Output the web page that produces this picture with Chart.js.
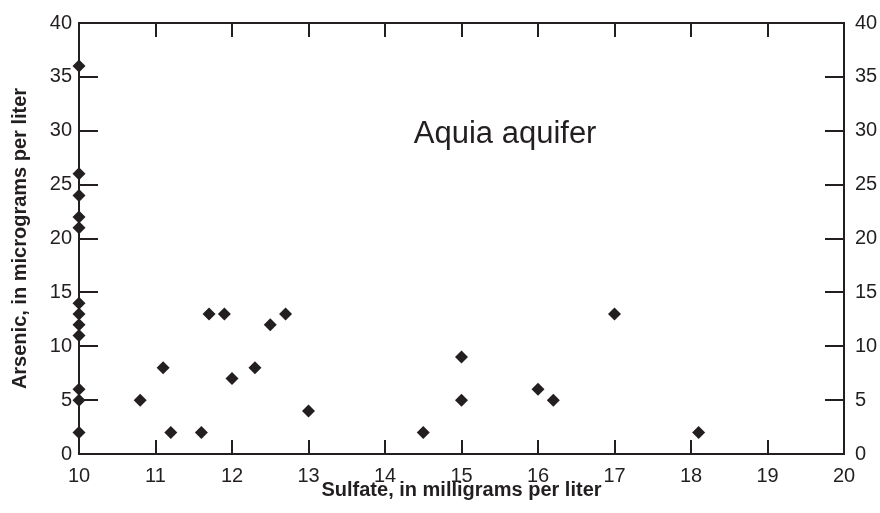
<!DOCTYPE html>
<html>
<head>
<meta charset="utf-8">
<script src="https://cdn.jsdelivr.net/npm/chart.js@4.4.1/dist/chart.umd.min.js"></script>
<style>
  html, body { margin: 0; padding: 0; background: #fff; }
  #wrap { width: 880px; height: 513px; }
</style>
</head>
<body>
<div id="wrap"><canvas id="graph" width="880" height="513"></canvas></div>
<script>
// data: sulfate (mg/L) vs arsenic (ug/L)
const sulfate = [10, 10, 10, 10, 10, 10, 10, 10, 10, 10, 10, 10,
  10.8, 11.1, 11.2, 11.6, 11.7, 11.9, 12, 12.3, 12.5, 12.7, 13,
  14.5, 15, 15, 16, 16.2, 17, 18.1];
const arsenic = [36, 26, 24, 22, 21, 14, 13, 12, 11, 6, 5, 2,
  5, 8, 2, 2, 13, 13, 7, 8, 12, 13, 4,
  2, 9, 5, 6, 5, 13, 2];

const xTicks = [10, 11, 12, 13, 14, 15, 16, 17, 18, 19, 20];
const yTicks = [0, 5, 10, 15, 20, 25, 30, 35, 40];
const panelLabel = "Aquia aquifer";

const INK = "#231f20";
const FONT = "'Liberation Sans', Arial, sans-serif";

// -------------------------
// inward tick marks + panel label
// -------------------------
const innerTicks = {
  id: "innerTicks",
  afterDatasetsDraw(chart) {
    const ctx = chart.ctx;
    const s = chart.scales;
    const a = chart.chartArea;
    ctx.save();
    ctx.strokeStyle = INK;
    ctx.lineWidth = 2;
    ctx.beginPath();
    xTicks.slice(1, -1).forEach(v => {
      const px = Math.round(s.x.getPixelForValue(v));
      ctx.moveTo(px, a.bottom); ctx.lineTo(px, a.bottom - 14);
      ctx.moveTo(px, a.top); ctx.lineTo(px, a.top + 14);
    });
    yTicks.slice(1, -1).forEach(v => {
      const py = Math.round(s.y.getPixelForValue(v));
      ctx.moveTo(a.left, py); ctx.lineTo(a.left + 19, py);
      ctx.moveTo(a.right, py); ctx.lineTo(a.right - 19, py);
    });
    ctx.stroke();

    ctx.fillStyle = INK;
    ctx.font = "31px " + FONT;
    ctx.textAlign = "center";
    ctx.textBaseline = "alphabetic";
    ctx.fillText(panelLabel, s.x.getPixelForValue(15.57), s.y.getPixelForValue(28.9));
    ctx.restore();
  }
};

function fixed(size, horizontal) {
  return s => { if (horizontal) s.height = size; else s.width = size; };
}

const tickFont = { family: FONT, size: 20 };
const titleFont = { family: FONT, size: 20, weight: "bold" };
const border = { display: true, color: INK, width: 2 };

new Chart(document.getElementById("graph"), {
  type: "scatter",
  data: {
    datasets: [{
      data: sulfate.map((x, i) => ({ x: x, y: arsenic[i] })),
      pointStyle: "rectRot",
      pointRadius: 6.5,
      pointHoverRadius: 6.5,
      backgroundColor: INK,
      borderColor: INK,
      borderWidth: 0,
      clip: false
    }]
  },
  options: {
    responsive: false,
    animation: false,
    layout: { padding: 0 },
    plugins: { legend: { display: false }, tooltip: { enabled: false } },
    scales: {
      x: {
        type: "linear", position: "bottom", min: 10, max: 20,
        afterBuildTicks: s => { s.ticks = xTicks.map(v => ({ value: v })); },
        grid: { display: false, drawTicks: false },
        border: border,
        ticks: { color: INK, font: tickFont, padding: 10, maxRotation: 0 },
        title: {
          display: true, text: "Sulfate, in milligrams per liter", color: INK,
          font: titleFont, padding: { top: 0, bottom: 11 }
        },
        afterFit: fixed(59, true)
      },
      x2: {
        type: "linear", position: "top", min: 10, max: 20,
        grid: { display: false, drawTicks: false },
        border: border,
        ticks: { display: false },
        afterFit: fixed(18, true)
      },
      y: {
        type: "linear", position: "left", min: 0, max: 40,
        afterBuildTicks: s => { s.ticks = yTicks.map(v => ({ value: v })); },
        grid: { display: false, drawTicks: false },
        border: border,
        ticks: { color: INK, font: tickFont, padding: 7 },
        title: {
          display: true, text: "Arsenic, in micrograms per liter", color: INK,
          font: titleFont, padding: { top: 8, bottom: 0 }
        },
        afterFit: fixed(79, false)
      },
      y2: {
        type: "linear", position: "right", min: 0, max: 40,
        afterBuildTicks: s => { s.ticks = yTicks.map(v => ({ value: v })); },
        grid: { display: false, drawTicks: false },
        border: border,
        ticks: { color: INK, font: tickFont, padding: 11 },
        afterFit: fixed(36, false)
      }
    }
  },
  plugins: [innerTicks]
});
</script>
</body>
</html>
